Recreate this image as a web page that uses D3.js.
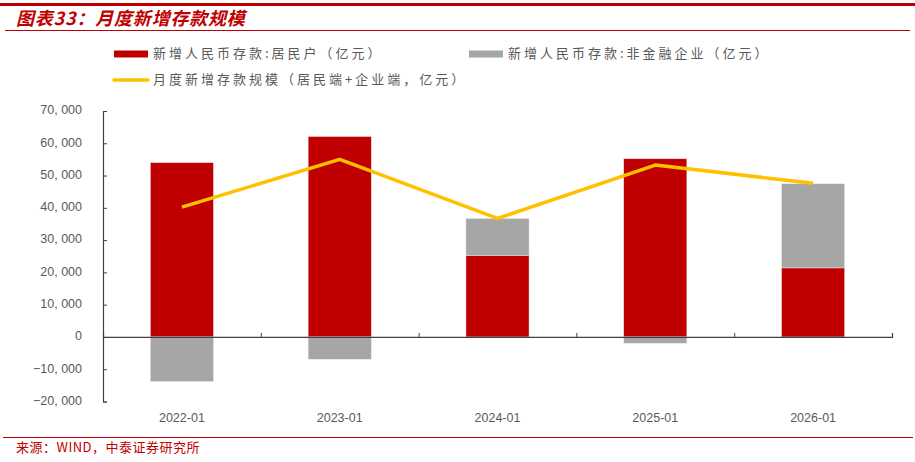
<!DOCTYPE html>
<html>
<head>
<meta charset="utf-8">
<script src="https://cdn.jsdelivr.net/npm/d3@7"></script>
<style>
  body { margin: 0; background: #fff; }
  svg { display: block; }
</style>
</head>
<body>
<div id="chart"></div>
<script>
// Données
const categories = ["2022-01", "2023-01", "2024-01", "2025-01", "2026-01"];
const menages = [54000, 62100, 25300, 55200, 21400];      // 新增人民币存款:居民户
const entreprises = [-13800, -6900, 11400, -1950, 26050]; // 新增人民币存款:非金融企业
const total = [40200, 55000, 36700, 53250, 47600];        // 月度新增存款规模
const yTicks = [-20000, -10000, 0, 10000, 20000, 30000, 40000, 50000, 60000, 70000];

const W = 915, H = 462;
const rouge = "#C00000", gris = "#A6A6A6", jaune = "#FFC000", texte = "#595959";
const cjk = "'Noto Sans CJK SC', sans-serif";
const latin = "'Liberation Sans', Arial, sans-serif";

const svg = d3.select("#chart").append("svg")
  .attr("width", W).attr("height", H);

// Cadre du titre
svg.append("rect").attr("x", 0).attr("y", 3).attr("width", W).attr("height", 3).attr("fill", rouge);
svg.append("text")
  .attr("x", 16).attr("y", 25)
  .attr("font-family", cjk).attr("font-size", 18).attr("font-weight", "bold")
  .attr("font-style", "italic").attr("fill", rouge)
  .attr("letter-spacing", 0.8)
  .text("图表33：月度新增存款规模");
svg.append("line").attr("x1", 5).attr("x2", 910).attr("y1", 30.5).attr("y2", 30.5)
  .attr("stroke", rouge).attr("stroke-width", 1);

// Échelles
const x = d3.scaleBand().domain(categories).range([103, 892]).paddingInner(0).paddingOuter(0);
const y = d3.scaleLinear().domain([-20000, 70000]).range([401.5, 111]);

// Barres : positives empilées vers le haut, négatives vers le bas
const barW = x.bandwidth() * 0.4;
const segments = [];
categories.forEach((c, i) => {
  let pos = 0, neg = 0;
  [[menages[i], rouge], [entreprises[i], gris]].forEach(([v, col]) => {
    let y0, y1;
    if (v >= 0) { y0 = pos; y1 = pos + v; pos = y1; }
    else { y0 = neg; y1 = neg + v; neg = y1; }
    segments.push({ c, y0, y1, col });
  });
});

svg.selectAll("rect.barre")
  .data(segments)
  .enter()
  .append("rect")
  .attr("class", "barre")
  .attr("x", d => x(d.c) + (x.bandwidth() - barW) / 2)
  .attr("width", barW)
  .attr("y", d => y(Math.max(d.y0, d.y1)))
  .attr("height", d => Math.abs(y(d.y0) - y(d.y1)))
  .attr("fill", d => d.col)
  .attr("stroke", "#e8e8e8")
  .attr("stroke-width", 0.5);

// Axe Y
const yAxis = svg.append("g")
  .attr("transform", "translate(103,0)")
  .call(d3.axisRight(y).tickValues(yTicks).tickSize(4).tickFormat(() => ""));
yAxis.select(".domain").attr("stroke", "#404040").attr("stroke-width", 1.2);
yAxis.selectAll(".tick line").attr("stroke", "#404040");

svg.selectAll("text.ylab")
  .data(yTicks)
  .enter()
  .append("text")
  .attr("class", "ylab")
  .attr("x", 82).attr("y", d => y(d))
  .attr("text-anchor", "end").attr("dominant-baseline", "middle")
  .attr("font-family", latin).attr("font-size", 12.5).attr("fill", texte)
  .text(d => d3.format(",")(d).replace(",", ", "));

// Axe X (ligne du zéro)
const xAxis = svg.append("g")
  .attr("transform", `translate(0,${y(0)})`)
  .call(d3.axisTop(d3.scaleLinear().domain([0, 5]).range([103, 892])).ticks(5).tickSize(4).tickFormat(() => ""));
xAxis.select(".domain").attr("stroke", "#404040").attr("stroke-width", 1.2);
xAxis.selectAll(".tick line").attr("stroke", "#404040");

svg.selectAll("text.xlab")
  .data(categories)
  .enter()
  .append("text")
  .attr("class", "xlab")
  .attr("x", d => x(d) + x.bandwidth() / 2).attr("y", 419)
  .attr("text-anchor", "middle").attr("dominant-baseline", "middle")
  .attr("font-family", latin).attr("font-size", 12.5).attr("fill", texte)
  .text(d => d);

// Courbe
const ligne = d3.line()
  .x((d, i) => x(categories[i]) + x.bandwidth() / 2)
  .y(d => y(d));
svg.append("path")
  .datum(total)
  .attr("d", ligne)
  .attr("fill", "none")
  .attr("stroke", jaune)
  .attr("stroke-width", 3.5)
  .attr("stroke-linejoin", "round");

// Légende
const legende = [
  { t: "新增人民币存款:居民户（亿元）", col: rouge, type: "rect", x: 114, y: 54 },
  { t: "新增人民币存款:非金融企业（亿元）", col: gris, type: "rect", x: 469, y: 54 },
  { t: "月度新增存款规模（居民端+企业端，亿元）", col: jaune, type: "line", x: 114, y: 80 }
];
legende.forEach(l => {
  if (l.type === "rect") {
    svg.append("rect").attr("x", l.x).attr("y", l.y - 3.5).attr("width", 34).attr("height", 7).attr("fill", l.col);
  } else {
    svg.append("line").attr("x1", l.x).attr("x2", l.x + 34).attr("y1", l.y).attr("y2", l.y)
      .attr("stroke", l.col).attr("stroke-width", 3.5).attr("stroke-linecap", "round");
  }
  svg.append("text")
    .attr("x", l.x + 39).attr("y", l.y)
    .attr("dominant-baseline", "middle")
    .attr("font-family", cjk).attr("font-size", 13).attr("fill", texte)
    .attr("letter-spacing", 3)
    .text(l.t);
});

// Pied de page
svg.append("line").attr("x1", 3).attr("x2", 913).attr("y1", 437.5).attr("y2", 437.5)
  .attr("stroke", rouge).attr("stroke-width", 1.2);
svg.append("text")
  .attr("x", 16).attr("y", 448)
  .attr("dominant-baseline", "middle")
  .attr("font-family", cjk).attr("font-size", 13).attr("fill", rouge)
  .attr("letter-spacing", 0.5)
  .text("来源：WIND，中泰证券研究所");
</script>
</body>
</html>
